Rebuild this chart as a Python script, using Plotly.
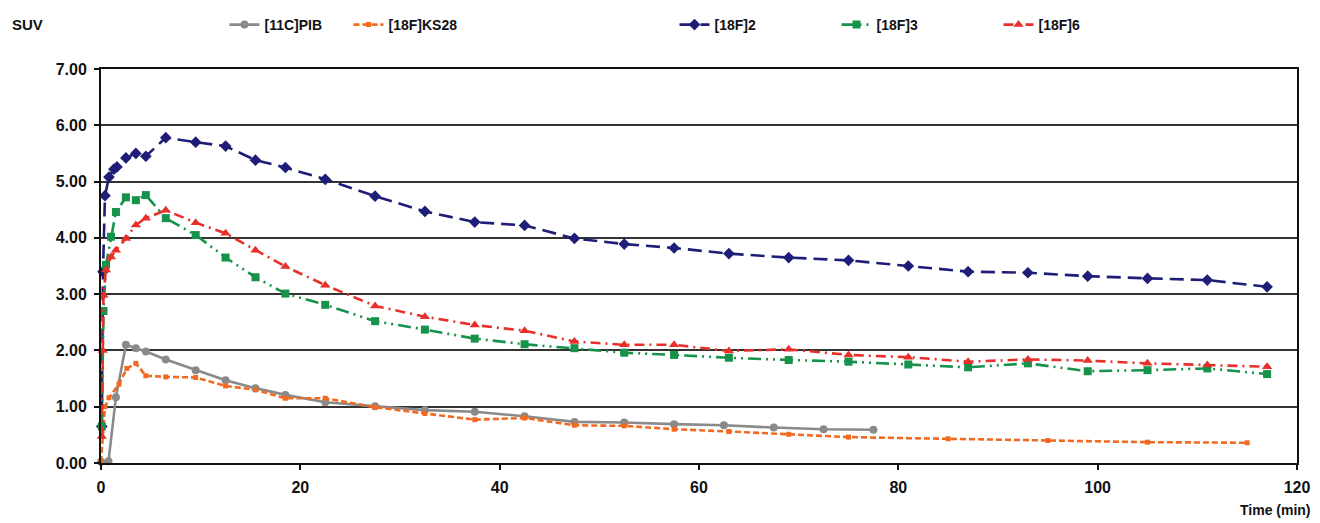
import plotly.graph_objects as go

# ---- data ----
t_pib = [0.0, 0.75, 1.5, 2.5, 3.5, 4.5, 6.5, 9.5, 12.5, 15.5, 18.5, 22.5, 27.5, 32.5, 37.5,
         42.5, 47.5, 52.5, 57.5, 62.5, 67.5, 72.5, 77.5]
v_pib = [0.02, 0.03, 1.17, 2.10, 2.04, 1.98, 1.84, 1.65, 1.47, 1.33, 1.21, 1.08, 1.01, 0.94, 0.91,
         0.83, 0.73, 0.72, 0.69, 0.67, 0.63, 0.60, 0.59]

t_ks28 = [0.0, 0.4, 0.8, 1.8, 2.6, 3.5, 4.5, 6.5, 9.5, 12.5, 15.5, 18.5, 22.5, 27.5, 32.5,
          37.5, 42.5, 47.5, 52.5, 57.5, 63, 69, 75, 85, 95, 105, 115]
v_ks28 = [0.02, 1.00, 1.16, 1.40, 1.68, 1.77, 1.55, 1.53, 1.52, 1.37, 1.30, 1.15, 1.15, 0.99, 0.88,
          0.77, 0.80, 0.67, 0.66, 0.60, 0.56, 0.51, 0.46, 0.43, 0.40, 0.37, 0.36]

t_f2 = [0.08, 0.2, 0.4, 0.8, 1.3, 1.6, 2.5, 3.5, 4.5, 6.5, 9.5, 12.5, 15.5, 18.5, 22.5, 27.5,
        32.5, 37.5, 42.5, 47.5, 52.5, 57.5, 63, 69, 75, 81, 87, 93, 99, 105, 111, 117]
v_f2 = [0.65, 3.40, 4.75, 5.08, 5.22, 5.26, 5.42, 5.50, 5.45, 5.78, 5.70, 5.63, 5.38, 5.25, 5.04,
        4.74, 4.47, 4.28, 4.22, 3.99, 3.89, 3.82, 3.72, 3.65, 3.60, 3.50, 3.40, 3.38, 3.32, 3.28,
        3.25, 3.13]

t_f3 = [0.08, 0.25, 0.5, 1.0, 1.5, 2.5, 3.5, 4.5, 6.5, 9.5, 12.5, 15.5, 18.5, 22.5, 27.5, 32.5,
        37.5, 42.5, 47.5, 52.5, 57.5, 63, 69, 75, 81, 87, 93, 99, 105, 111, 117]
v_f3 = [0.65, 2.70, 3.52, 4.02, 4.46, 4.72, 4.67, 4.76, 4.35, 4.05, 3.65, 3.30, 3.01, 2.81, 2.52,
        2.37, 2.21, 2.11, 2.04, 1.96, 1.92, 1.87, 1.83, 1.80, 1.75, 1.70, 1.77, 1.63, 1.65, 1.68,
        1.58]

t_f6 = [0.08, 0.17, 0.25, 0.5, 1.0, 1.5, 2.5, 3.5, 4.5, 6.5, 9.5, 12.5, 15.5, 18.5, 22.5, 27.5,
        32.5, 37.5, 42.5, 47.5, 52.5, 57.5, 63, 69, 75, 81, 87, 93, 99, 105, 111, 117]
v_f6 = [0.47, 2.00, 2.98, 3.43, 3.66, 3.78, 3.99, 4.23, 4.35, 4.49, 4.27, 4.08, 3.78, 3.49, 3.16,
        2.79, 2.60, 2.45, 2.35, 2.16, 2.10, 2.10, 1.99, 2.02, 1.92, 1.88, 1.80, 1.84, 1.82, 1.77,
        1.74, 1.71]

x_ticks = [0, 20, 40, 60, 80, 100, 120]
y_ticks = [0, 1, 2, 3, 4, 5, 6, 7]

FONT = "Liberation Sans"

fig = go.Figure()

def add(name, t, v, color, dash, symbol, msize, legend, width=2.6):
    fig.add_trace(go.Scatter(
        x=t, y=v, name="<b>" + name + "</b>", mode="lines+markers",
        line=dict(color=color, width=width, dash=dash),
        marker=dict(symbol=symbol, size=msize, color=color),
        legend=legend, cliponaxis=False))

add("[11C]PIB", t_pib, v_pib, "#8a8a8a", "solid", "circle", 8, "legend")
add("[18F]KS28", t_ks28, v_ks28, "#f26a21", "6px,3px", "square", 5, "legend")
add("[18F]2", t_f2, v_f2, "#1e1e78", "14px,7px", "diamond", 9, "legend2")
add("[18F]3", t_f3, v_f3, "#16924a", "13px,5px,2px,5px,2px,5px", "square", 8, "legend2")
add("[18F]6", t_f6, v_f6, "#e8302a", "10px,5px,2px,5px", "triangle-up", 9, "legend2")

legend_common = dict(orientation="h", yanchor="middle", y=0.967, yref="container",
                     xref="container", bgcolor="rgba(0,0,0,0)",
                     font=dict(family=FONT, size=14, color="#111"), itemwidth=30,
                     entrywidthmode="pixels", traceorder="normal")

# page body has an 8px margin; figure sized/margined to compensate
fig.update_layout(
    width=1312, height=515,
    margin=dict(l=93, r=23, t=61, b=60, autoexpand=False),
    paper_bgcolor="white", plot_bgcolor="white",
    font=dict(family=FONT, size=13, color="#111"),
    legend=dict(x=0.165, entrywidth=79, **legend_common),
    legend2=dict(x=0.508, entrywidth=117, **legend_common),
    xaxis=dict(range=[0, 120], tickvals=x_ticks, ticktext=[f"<b>{v}</b>" for v in x_ticks],
               showgrid=False, zeroline=False, showline=True, linecolor="#111", linewidth=2,
               mirror=True, ticks="outside", ticklen=5, tickwidth=2, tickcolor="#111",
               ticklabelstandoff=4,
               tickfont=dict(family=FONT, size=16, color="#111")),
    yaxis=dict(range=[0, 7], tickvals=y_ticks, ticktext=[f"<b>{v:.2f}</b>" for v in y_ticks],
               showgrid=True, gridcolor="#333", gridwidth=1.6, zeroline=False,
               showline=True, linecolor="#111", linewidth=2, mirror=True,
               ticks="outside", ticklen=5, tickwidth=2, tickcolor="#111",
               ticklabelstandoff=4,
               tickfont=dict(family=FONT, size=16, color="#111")),
    showlegend=True,
)

fig.add_annotation(text="<b>SUV</b>", xref="paper", yref="paper", x=-0.076, y=1.112,
                   xanchor="left", yanchor="middle", showarrow=False,
                   font=dict(family=FONT, size=15, color="#111"))
fig.add_annotation(text="<b>Time (min)</b>", xref="paper", yref="paper", x=1.0, y=-0.119,
                   xanchor="right", yanchor="middle", xshift=16, showarrow=False,
                   font=dict(family=FONT, size=14, color="#111"))

fig.write_html("out.html")
